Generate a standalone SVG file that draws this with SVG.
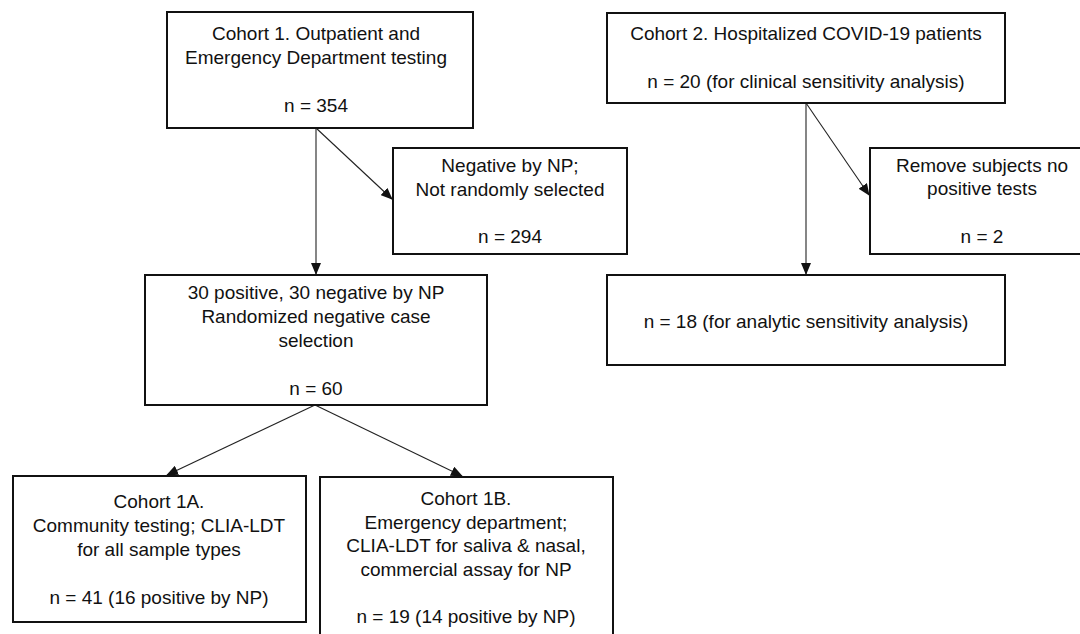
<svg xmlns="http://www.w3.org/2000/svg" width="1080" height="634" viewBox="0 0 1080 634">
<style>
.box{fill:#fff;stroke:#111;stroke-width:2}
.t{font-family:"Liberation Sans",Arial,sans-serif;font-size:19px;fill:#111;text-anchor:middle}
.c{stroke:#222;stroke-width:1.1;fill:none}
</style>
<defs>
<marker id="ah" markerUnits="userSpaceOnUse" markerWidth="12" markerHeight="10" refX="11" refY="5" orient="auto">
<path d="M0,0 L12,5 L0,10 Z" fill="#111"/>
</marker>
</defs>
<rect width="1080" height="634" fill="#fff"/>
<g id="connectors">
<line class="c" x1="316" y1="128" x2="316" y2="274" marker-end="url(#ah)"/>
<line class="c" x1="316" y1="128" x2="392" y2="199" marker-end="url(#ah)"/>
<line class="c" x1="806" y1="103" x2="806" y2="274" marker-end="url(#ah)"/>
<line class="c" x1="806" y1="103" x2="869" y2="195" marker-end="url(#ah)"/>
<line class="c" x1="315" y1="405" x2="167" y2="475" marker-end="url(#ah)"/>
<line class="c" x1="315" y1="405" x2="462" y2="476" marker-end="url(#ah)"/>
</g>
<g id="cohort1">
<rect class="box" x="167" y="12" width="306" height="116"/>
<text class="t" x="316" y="40">Cohort 1. Outpatient and</text>
<text class="t" x="316" y="64">Emergency Department testing</text>
<text class="t" x="316" y="112">n = 354</text>
</g>
<g id="negative">
<rect class="box" x="393" y="148" width="234" height="106"/>
<text class="t" x="510" y="172">Negative by NP;</text>
<text class="t" x="510" y="196">Not randomly selected</text>
<text class="t" x="510" y="243">n = 294</text>
</g>
<g id="selected">
<rect class="box" x="145" y="275" width="342" height="130"/>
<text class="t" x="316" y="299">30 positive, 30 negative by NP</text>
<text class="t" x="316" y="323">Randomized negative case</text>
<text class="t" x="316" y="347">selection</text>
<text class="t" x="316" y="395">n = 60</text>
</g>
<g id="cohort1a">
<rect class="box" x="13" y="476" width="293" height="146"/>
<text class="t" x="159" y="508">Cohort 1A.</text>
<text class="t" x="159" y="532">Community testing; CLIA-LDT</text>
<text class="t" x="159" y="556">for all sample types</text>
<text class="t" x="159" y="604">n = 41 (16 positive by NP)</text>
</g>
<g id="cohort1b">
<rect class="box" x="320" y="477" width="293" height="180"/>
<text class="t" x="466" y="505">Cohort 1B.</text>
<text class="t" x="466" y="529">Emergency department;</text>
<text class="t" x="466" y="552">CLIA-LDT for saliva &amp; nasal,</text>
<text class="t" x="466" y="576">commercial assay for NP</text>
<text class="t" x="466" y="623">n = 19 (14 positive by NP)</text>
</g>
<g id="cohort2">
<rect class="box" x="607" y="13" width="398" height="90"/>
<text class="t" x="806" y="40">Cohort 2. Hospitalized COVID-19 patients</text>
<text class="t" x="806" y="88">n = 20 (for clinical sensitivity analysis)</text>
</g>
<g id="removed">
<rect class="box" x="870" y="148" width="224" height="106"/>
<text class="t" x="982" y="172">Remove subjects no</text>
<text class="t" x="982" y="195">positive tests</text>
<text class="t" x="982" y="243">n = 2</text>
</g>
<g id="analytic">
<rect class="box" x="607" y="275" width="398" height="90"/>
<text class="t" x="806" y="328">n = 18 (for analytic sensitivity analysis)</text>
</g>
</svg>
